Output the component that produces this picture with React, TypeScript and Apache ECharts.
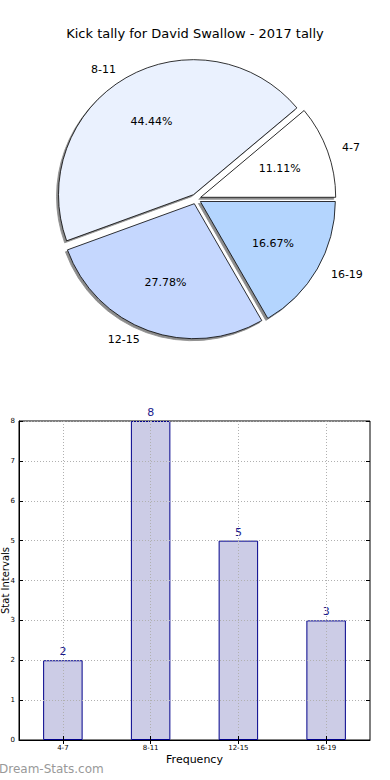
import React, { useEffect, useRef } from 'react';
import * as echarts from 'echarts';

const titleText = 'Kick tally for David Swallow - 2017 tally';
const categories = ['4-7', '8-11', '12-15', '16-19'];
const counts = [2, 8, 5, 3];
const sliceColors = ['#ffffff', '#eaf1fe', '#c5d7fe', '#b4d5fe'];
const yMin = 0;
const yMax = 8;
const yStep = 1;
const xAxisName = 'Frequency';
const yAxisName = 'Stat Intervals';
const watermark = 'Dream-Stats.com';

const FONT = 'DejaVu Sans';

export default function App() {
  const ref = useRef<HTMLDivElement>(null);
  useEffect(() => {
    if (!ref.current) return;
    const chart = echarts.init(ref.current, undefined, { renderer: 'svg' });
    const pieData = categories.map((c, i) => ({
      name: c,
      value: counts[i],
      selected: true,
      itemStyle: { color: sliceColors[i] },
    }));
    const pieCenter = [196, 199];
    const R = 135;
    chart.setOption({
      animation: false,
      textStyle: { fontFamily: FONT },
      title: {
        text: titleText,
        left: 'center',
        top: 22,
        textStyle: { fontFamily: FONT, fontSize: 13, fontWeight: 'normal', color: '#000' },
      },
      graphic: [
        {
          type: 'text',
          left: -1,
          top: 763,
          style: { text: watermark, fontFamily: FONT, fontSize: 12, fontWeight: 'normal', fill: '#999999' },
        },
      ],
      grid: {
        left: 19,
        right: 20,
        top: 421,
        bottom: 40,
        outerBoundsMode: 'none',
        containLabel: false,
        show: true,
        borderColor: '#000',
        borderWidth: 1,
        backgroundColor: '#fff',
      },
      xAxis: [
        {
          type: 'category',
          data: categories,
          z: 5,
          name: xAxisName,
          nameLocation: 'middle',
          nameGap: 14,
          nameMoveOverlap: false,
          nameTextStyle: { fontFamily: FONT, fontSize: 11, color: '#000' },
          axisLine: { show: true, lineStyle: { color: '#000' } },
          axisTick: { show: true, inside: true, length: 4, alignWithLabel: true, lineStyle: { color: '#000' } },
          axisLabel: { fontFamily: FONT, fontSize: 7, color: '#000', margin: 4 },
          splitLine: { show: true, alignWithLabel: true, lineStyle: { color: '#b0b0b0', type: [1, 2], width: 1 } },
        },
        {
          type: 'category',
          data: categories,
          position: 'top',
          z: 5,
          axisLine: { show: false },
          axisTick: { show: true, inside: true, length: 4, alignWithLabel: true, lineStyle: { color: '#000' } },
          axisLabel: { show: false },
          splitLine: { show: false },
        },
      ],
      yAxis: [
        {
          type: 'value',
          min: yMin,
          max: yMax,
          interval: yStep,
          z: 5,
          name: yAxisName,
          nameLocation: 'middle',
          nameGap: 9,
          nameMoveOverlap: false,
          nameTextStyle: { fontFamily: FONT, fontSize: 10, color: '#000' },
          axisLine: { show: true, lineStyle: { color: '#000' } },
          axisTick: { show: true, inside: true, length: 4, lineStyle: { color: '#000' } },
          axisLabel: { fontFamily: FONT, fontSize: 7, color: '#000', margin: 4 },
          splitLine: { show: true, lineStyle: { color: '#b0b0b0', type: [1, 2], width: 1 } },
        },
        {
          type: 'value',
          min: yMin,
          max: yMax,
          interval: yStep,
          position: 'right',
          z: 5,
          axisLine: { show: false },
          axisTick: { show: true, inside: true, length: 4, lineStyle: { color: '#000' } },
          axisLabel: { show: false },
          splitLine: { show: false },
        },
      ],
      series: [
        {
          type: 'pie',
          center: pieCenter,
          radius: [0, R],
          startAngle: 0,
          clockwise: false,
          selectedMode: 'multiple',
          selectedOffset: 5,
          avoidLabelOverlap: false,
          emphasis: { disabled: true },
          data: pieData,
          itemStyle: {
            borderColor: '#000',
            borderWidth: 0.8,
            shadowColor: 'rgba(0,0,0,0.45)',
            shadowOffsetX: -2,
            shadowOffsetY: 2,
            shadowBlur: 0,
          },
          label: {
            show: true,
            position: 'outside',
            formatter: '{b}',
            fontFamily: FONT,
            fontSize: 11,
            color: '#000',
            distanceToLabelLine: 5,
          },
          labelLine: { show: false, length: 10, length2: 0 },
        },
        {
          type: 'pie',
          center: pieCenter,
          radius: [0, R * 1.2],
          startAngle: 0,
          clockwise: false,
          selectedMode: 'multiple',
          selectedOffset: 5,
          avoidLabelOverlap: false,
          silent: true,
          emphasis: { disabled: true },
          data: categories.map((c, i) => ({ name: c, value: counts[i], selected: true })),
          itemStyle: { color: 'rgba(0,0,0,0)', borderWidth: 0 },
          label: {
            show: true,
            position: 'inside',
            formatter: (p: any) => p.percent.toFixed(2) + '%',
            fontFamily: FONT,
            fontSize: 11,
            color: '#000',
          },
          labelLine: { show: false },
        },
        {
          type: 'bar',
          xAxisIndex: 0,
          yAxisIndex: 0,
          data: counts,
          barWidth: '45%',
          itemStyle: { color: '#ccccE6', borderColor: '#00008b', borderWidth: 1 },
          label: {
            show: true,
            position: 'top',
            distance: 3,
            fontFamily: FONT,
            fontSize: 11,
            color: '#1a1a8c',
          },
        },
      ],
    });
    return () => chart.dispose();
  }, []);
  return <div ref={ref} style={{ position: 'fixed', left: 0, top: 0, width: 390, height: 780, background: '#fff' }} />;
}
